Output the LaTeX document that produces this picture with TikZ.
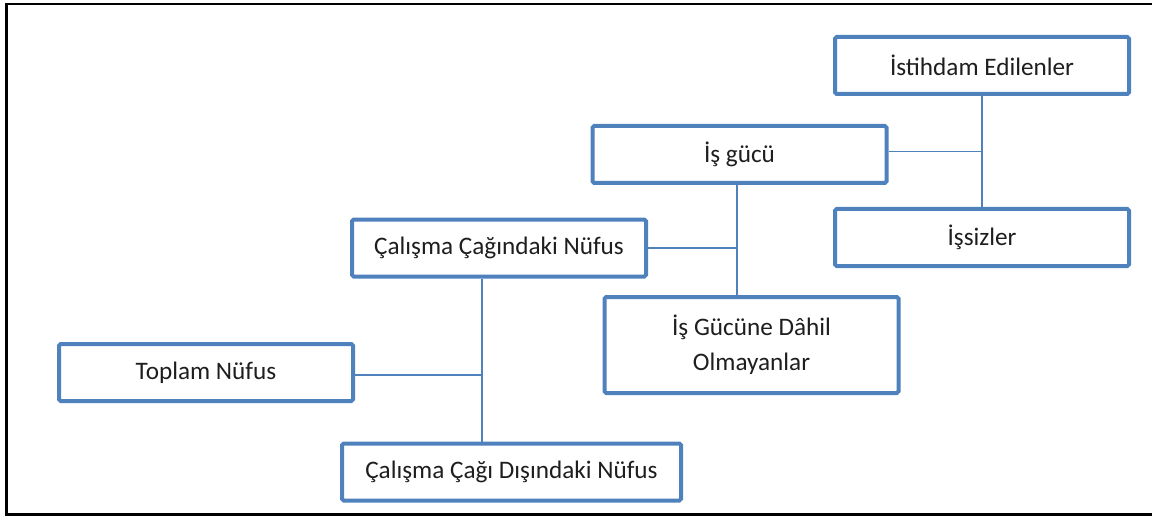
\documentclass[tikz,border=0pt]{standalone}
\usepackage{fontspec}
\setmainfont{Carlito}
\usetikzlibrary{calc}

\definecolor{kutumavi}{RGB}{79,129,189}
\definecolor{yazi}{RGB}{30,30,30}

\begin{document}
\begin{tikzpicture}[x=0.5pt,y=-0.5pt,
   kutu/.style={draw=kutumavi,line width=2pt,rounded corners=0.8pt,fill=white,
                minimum width=147pt,minimum height=28.5pt,inner sep=0pt,
                align=center,text=yazi,font=\fontsize{12.6}{17.5}\selectfont},
   bag/.style={draw=kutumavi,line width=0.7pt}]

   \useasboundingbox (0,0) rectangle (1152,519);

   % Frame
      \draw[line width=1.3pt] (1153,4) -- (6.5,4) -- (6.5,514.5) -- (1153,514.5);

   % Nodes
      \node[kutu]                        (istihdam) at (982,65.5)    {İstihdam Edilenler};
      \node[kutu]                        (issiz)    at (982,237.5)   {İşsizler};
      \node[kutu]                        (isgucu)   at (739.5,154.5) {İş gücü};
      \node[kutu]                        (calisma)  at (499,248)     {Çalışma Çağındaki Nüfus};
      \node[kutu,minimum height=48pt]    (dahil)    at (751.5,345)   {İş Gücüne Dâhil\\Olmayanlar};
      \node[kutu]                        (toplam)   at (206,372.5)   {Toplam Nüfus};
      \node[kutu,minimum width=169.5pt]  (disinda)  at (511.5,472)   {Çalışma Çağı Dışındaki Nüfus};

   % Branch points
      \coordinate (k1) at (737,0);
      \coordinate (k2) at (482,0);

   % Paths
      \draw[bag] (istihdam.south) -- (issiz.north);
      \draw[bag] ($(isgucu.east)+(0,-3)$) -- ($(isgucu.east -| istihdam.south)+(0,-3)$);
      \draw[bag] (k1 |- isgucu.south) -- (k1 |- dahil.north);
      \draw[bag] (calisma.east) -- (calisma.east -| k1);
      \draw[bag] (k2 |- calisma.south) -- (k2 |- disinda.north);
      \draw[bag] ($(toplam.east)+(0,2.5)$) -- ($(toplam.east -| k2)+(0,2.5)$);
\end{tikzpicture}
\end{document}
